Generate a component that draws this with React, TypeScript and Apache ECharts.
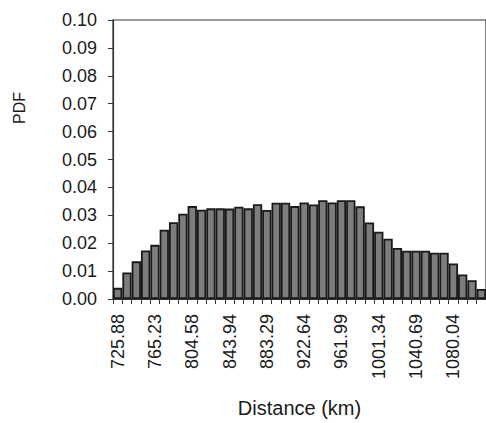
import React, { useEffect, useRef } from "react";
import * as echarts from "echarts";

const categories: string[] = [
  "725.88", "735.72", "745.56", "755.39", "765.23", "775.07", "784.91", "794.74",
  "804.58", "814.42", "824.26", "834.10", "843.94", "853.77", "863.61", "873.45",
  "883.29", "893.13", "902.96", "912.80", "922.64", "932.48", "942.32", "952.15",
  "961.99", "971.83", "981.67", "991.50", "1001.34", "1011.18", "1021.02", "1030.86",
  "1040.69", "1050.53", "1060.37", "1070.20", "1080.04", "1089.88", "1099.72", "1109.55",
];

const pdfValues: number[] = [
  0.0040, 0.0095, 0.0135, 0.0174, 0.0194, 0.0248, 0.0275, 0.0306,
  0.0333, 0.0320, 0.0325, 0.0325, 0.0324, 0.0331, 0.0325, 0.0340,
  0.0319, 0.0345, 0.0345, 0.0333, 0.0346, 0.0339, 0.0354, 0.0346,
  0.0354, 0.0354, 0.0332, 0.0274, 0.0241, 0.0216, 0.0183, 0.0173,
  0.0173, 0.0173, 0.0166, 0.0166, 0.0127, 0.0088, 0.0067, 0.0036,
];

const xTitle = "Distance (km)";
const yTitle = "PDF";

export default function App() {
  const ref = useRef<HTMLDivElement>(null);
  useEffect(() => {
    if (!ref.current) return;
    const chart = echarts.init(ref.current, null, { renderer: "svg" });
    const font = "Liberation Sans, Arial, sans-serif";
    chart.setOption({
      animation: false,
      backgroundColor: "#ffffff",
      grid: {
        left: 113,
        top: 20,
        right: -3,
        bottom: 123,
        show: true,
        borderColor: "#333333",
        borderWidth: 1.2,
        containLabel: false,
      },
      graphic: [
        {
          type: "text",
          x: 19,
          y: 108,
          rotation: Math.PI / 2,
          style: {
            text: yTitle,
            fontSize: 16,
            fontFamily: font,
            fill: "#1a1a1a",
            align: "center",
            verticalAlign: "middle",
          },
        },
      ],
      xAxis: {
        type: "category",
        data: categories,
        boundaryGap: true,
        name: xTitle,
        nameLocation: "middle",
        nameGap: 99,
        nameTextStyle: { fontSize: 20, fontFamily: font, color: "#1a1a1a", verticalAlign: "top" },
        axisLine: { show: true, lineStyle: { color: "#333333", width: 1.2 } },
        axisTick: { show: true, interval: 0, length: 5, lineStyle: { color: "#333333" } },
        axisLabel: {
          interval: 3,
          rotate: 90,
          margin: 15,
          fontSize: 18,
          fontFamily: font,
          color: "#1a1a1a",
        },
        splitLine: { show: false },
      },
      yAxis: {
        type: "value",
        min: 0,
        max: 0.1,
        interval: 0.01,
        axisLine: { show: true, lineStyle: { color: "#333333", width: 1.2 } },
        axisTick: { show: true, length: 5, lineStyle: { color: "#333333" } },
        axisLabel: {
          margin: 16,
          fontSize: 18,
          fontFamily: font,
          color: "#1a1a1a",
          formatter: (v: number) => v.toFixed(2),
        },
        splitLine: { show: false },
      },
      series: [
        {
          type: "bar",
          data: pdfValues,
          barCategoryGap: "0%",
          itemStyle: { color: "#7d7d7d", borderColor: "#1a1a1a", borderWidth: 1.8 },
        },
      ],
    });
    return () => chart.dispose();
  }, []);
  return (
    <div
      ref={ref}
      style={{ position: "fixed", left: 0, top: 0, width: 486, height: 423 }}
    />
  );
}
